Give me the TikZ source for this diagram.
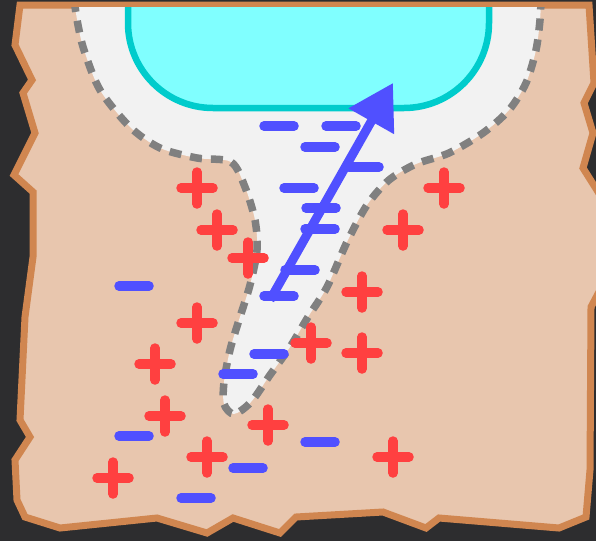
\documentclass[tikz,border=0pt]{standalone}
\usetikzlibrary{arrows.meta}
\definecolor{board}{HTML}{2D2D2F}
\definecolor{paper}{HTML}{E8C6AE}
\definecolor{paperedge}{HTML}{D08650}
\definecolor{hole}{HTML}{F2F2F2}
\definecolor{water}{HTML}{80FFFF}
\definecolor{wateredge}{HTML}{00CCCC}
\definecolor{rim}{HTML}{808080}
\definecolor{poscharge}{HTML}{FF4040}
\definecolor{negcharge}{HTML}{5050FF}
\tikzset{
  paperstyle/.style={fill=paper, draw=paperedge, line width=7pt, line join=miter},
  holestyle/.style={fill=hole},
  waterstyle/.style={fill=water, draw=wateredge, line width=6.5pt},
  rimstyle/.style={draw=rim, line width=7.5pt, dash pattern=on 12pt off 9pt},
  signstroke/.style={line width=9.5pt, line cap=round},
  plus/.pic={\draw[signstroke, poscharge] (-16,0) -- (16,0) (0,-16) -- (0,16);},
  minus/.pic={\draw[signstroke, negcharge] (-15,0) -- (15,0);},
  fieldarrow/.style={draw=negcharge, line width=9pt,
    -{Triangle[length=44pt, width=50pt]}},
}
\begin{document}
\begin{tikzpicture}[x=1pt, y=-1pt]
\useasboundingbox (0,0) rectangle (596,541);
\fill[board] (0,0) rectangle (596,541);
\clip (0,0) rectangle (596,541);

% torn sheet
\path[paperstyle] (20,5) -- (589,5) -- (594,83) -- (584,103) -- (593,133)
  -- (583,168) -- (600,195) -- (600,290) -- (591,307) -- (590,470)
  -- (586,517) -- (559,528) -- (439,518) -- (426,528) -- (383,512)
  -- (296,517) -- (280,533) -- (233,518) -- (207,533) -- (157,518)
  -- (60,528) -- (25,517) -- (17,500) -- (15,460) -- (30,437) -- (20,420)
  -- (25,317) -- (33,257) -- (33,192) -- (14,175) -- (35,133) -- (23,93)
  -- (32,80) -- (15,45) -- cycle;

% depletion region around the pore
\begin{scope}
  \clip (0,7) rectangle (596,541);
  \path[save path=\rimpath] plot[smooth, tension=0.5] coordinates {
    (74,0) (78,25) (84,50) (100,90) (130,127) (160,148) (197,158) (231,162)
    (245,187) (255,220) (257,250) (250,285) (239,320) (230,350) (224,382)
    (224,404) (234,414) (251,402) (270,375) (290,347) (308,317) (327,287)
    (347,242) (367,205) (389,180) (416,164) (449,153) (483,133) (509,110)
    (526,83) (536,50) (540,20) (541,0)};
  \fill[holestyle, use path=\rimpath];
  \path[waterstyle] (128,-5) [rounded corners=85pt] -- (128,108) -- (489,108)
    [sharp corners] -- (489,-5);
  \draw[rimstyle, use path=\rimpath];
\end{scope}

% positive charges
\foreach \p in {(197,188),(217,230),(248,258),(444,188),(403,230),(362,292),
  (197,323),(311,343),(362,353),(155,364),(165,416),(268,425),(207,457),
  (113,478),(393,457)}
  \pic at \p {plus};

% negative charges
\foreach \p in {(279,126),(341,126),(320,147),(364,167),(299,188),(321,208),
  (320,229),(300,270),(279,296),(134,286),(269,354),(238,374),(134,436),
  (320,442),(248,468),(196,498)}
  \pic at \p {minus};

% field direction
\coordinate (tail) at (270,300);
\coordinate (head) at (393,83);
\draw[fieldarrow] (tail) -- (head);
\end{tikzpicture}
\end{document}
